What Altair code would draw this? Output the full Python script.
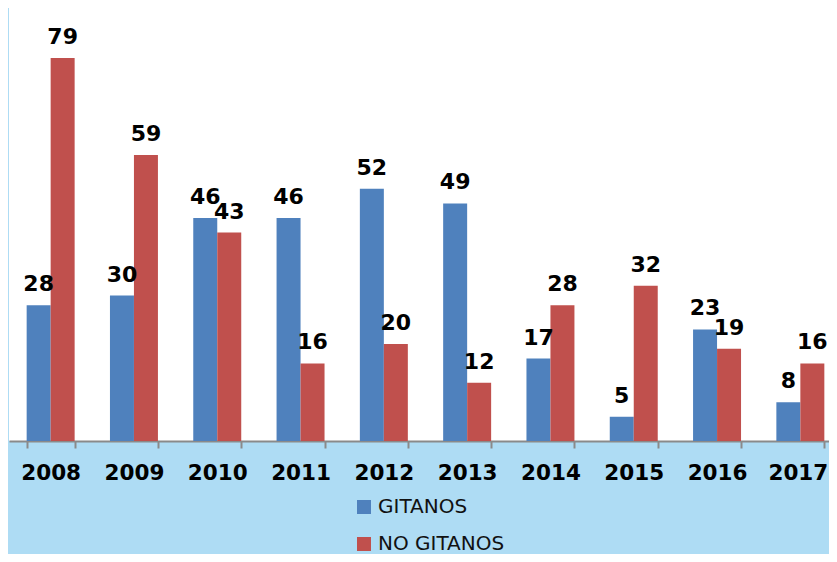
import altair as alt
import pandas as pd

years = ["2008", "2009", "2010", "2011", "2012", "2013", "2014", "2015", "2016", "2017"]
gitanos = [28, 30, 46, 46, 52, 49, 17, 5, 23, 8]
no_gitanos = [79, 59, 43, 16, 20, 12, 28, 32, 19, 16]
series = ["GITANOS", "NO GITANOS"]
colors = ["#4F81BD", "#C0504D"]

rows = []
for i, yr in enumerate(years):
    rows.append({"year": yr, "serie": series[0], "value": gitanos[i]})
    rows.append({"year": yr, "serie": series[1], "value": no_gitanos[i]})
df = pd.DataFrame(rows)

x = alt.X(
    "year:N",
    sort=years,
    scale=alt.Scale(range=[0, 833], paddingInner=0.424, paddingOuter=0.212),
    axis=alt.Axis(
        title=None,
        labelAngle=0,
        labelFont="DejaVu Sans",
        labelFontSize=21.5,
        labelFontWeight="bold",
        labelColor="#000000",
        labelPadding=14,
        labelOffset={"condition": {"test": "datum.value == '2017'", "value": -2.5}, "value": 0},
        domainColor="#8a8a8a",
        domainWidth=2,
        tickColor="#8a8a8a",
        tickWidth=2,
        tickSize=7,
        tickBand="extent",
    ),
)
xo = alt.XOffset("serie:N", sort=series, scale=alt.Scale(paddingInner=0, paddingOuter=0))
y = alt.Y("value:Q", scale=alt.Scale(domain=[0, 89.3], nice=False, zero=True), axis=None)

bars = alt.Chart(df).mark_bar().encode(
    x=x,
    xOffset=xo,
    y=y,
    color=alt.Color(
        "serie:N",
        sort=series,
        scale=alt.Scale(domain=series, range=colors),
        legend=alt.Legend(
            title=None,
            orient="none",
            legendX=345,
            legendY=489,
            direction="vertical",
            symbolType="square",
            symbolSize=196,
            symbolStrokeWidth=0,
            symbolOpacity=1,
            labelFont="DejaVu Sans",
            labelFontSize=20,
            labelColor="#111111",
            labelOffset=4,
            rowPadding=17,
            padding=0,
        ),
    ),
)

labels = alt.Chart(df).mark_text(
    baseline="alphabetic",
    dy=-14,
    font="DejaVu Sans",
    fontSize=22,
    fontWeight="bold",
    color="#000000",
).encode(x=x, xOffset=xo, y=y, text="value:Q")

chart = (
    alt.layer(bars, labels)
    .properties(
        width=820,
        height=433,
        autosize=alt.AutoSizeParams(type="none"),
        padding={"left": 1, "top": 0, "right": 0, "bottom": 113},
        background="#AEDCF4",
    )
    .configure_view(fill="white", strokeWidth=0)
)

chart.save("out.html", embed_options={"renderer": "svg", "actions": False})
